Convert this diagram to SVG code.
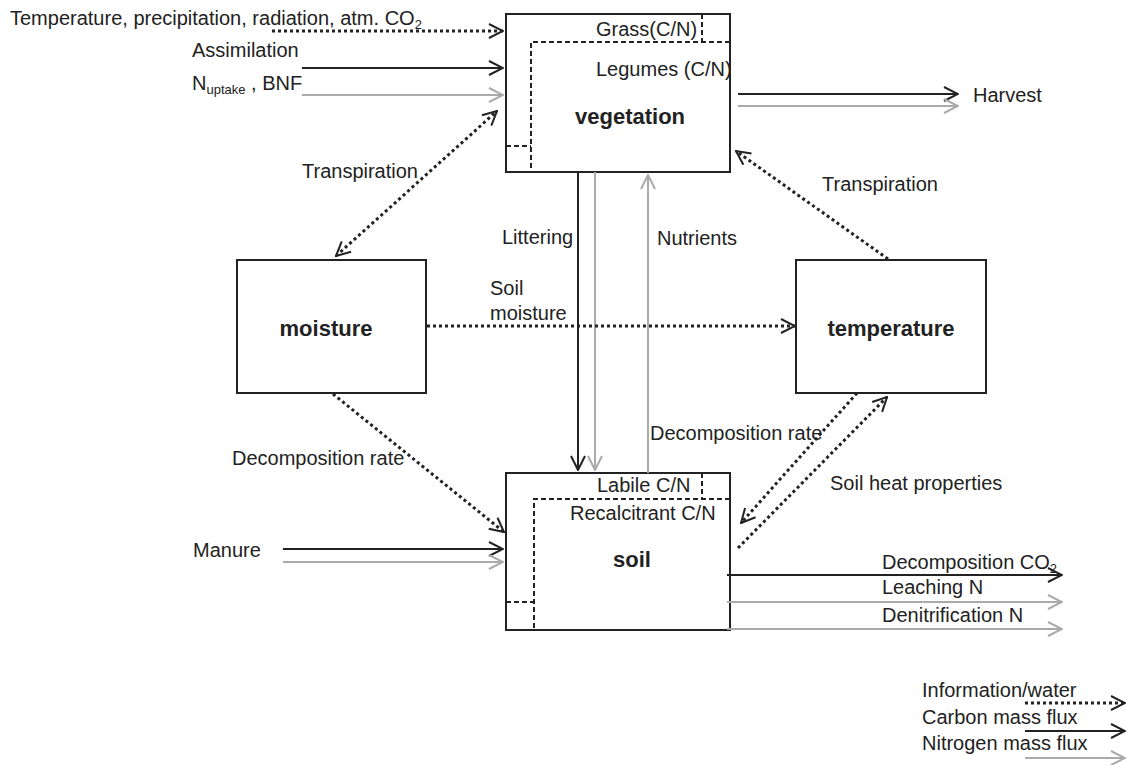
<svg xmlns="http://www.w3.org/2000/svg" width="1127" height="765" viewBox="0 0 1127 765">
<style>
text{font-family:"Liberation Sans",Arial,sans-serif;font-size:20px;fill:#222}
.b{font-weight:bold;font-size:22px;text-anchor:middle}
.sub{font-size:13px}
.box{fill:#fff;stroke:#222;stroke-width:2}
.dash{fill:none;stroke:#222;stroke-width:2;stroke-dasharray:5,3}
.c{fill:none;stroke:#222;stroke-width:2;marker-end:url(#ah)}
.n{fill:none;stroke:#aaa;stroke-width:2;marker-end:url(#ahg)}
.d{fill:none;stroke:#222;stroke-width:3;stroke-dasharray:3,3}
.de{marker-end:url(#ah)}
.ds{marker-start:url(#ahs)}
</style>
<defs>
<marker id="ah" viewBox="0 0 16 16" refX="15" refY="8" markerWidth="16" markerHeight="16" markerUnits="userSpaceOnUse" orient="auto"><path d="M1,1 L15,8 L1,15" fill="none" stroke="#222" stroke-width="2"/></marker>
<marker id="ahs" viewBox="0 0 16 16" refX="1" refY="8" markerWidth="16" markerHeight="16" markerUnits="userSpaceOnUse" orient="auto"><path d="M15,1 L1,8 L15,15" fill="none" stroke="#222" stroke-width="2"/></marker>
<marker id="ahg" viewBox="0 0 16 16" refX="15" refY="8" markerWidth="16" markerHeight="16" markerUnits="userSpaceOnUse" orient="auto"><path d="M1,1 L15,8 L1,15" fill="none" stroke="#aaa" stroke-width="2"/></marker>
</defs>
<rect width="1127" height="765" fill="#fff"/>
<g id="vegetation">
<rect class="box" x="506" y="14" width="224" height="158"/>
<path class="dash" d="M702,14 V42 M730,42 H531 V172 M506,146 H531"/>
<text x="596" y="36">Grass(C/N)</text>
<text x="596" y="76">Legumes (C/N)</text>
<text class="b" x="630" y="124">vegetation</text>
</g>
<g id="soil">
<rect class="box" x="506" y="473" width="224" height="157"/>
<path class="dash" d="M702,473 V499 M730,499 H534 V630 M506,602 H534"/>
<text x="597" y="492">Labile C/N</text>
<text x="570" y="520">Recalcitrant C/N</text>
<text class="b" x="632" y="567">soil</text>
</g>
<g id="moisture">
<rect class="box" x="237" y="260" width="189" height="133"/>
<text class="b" x="326" y="336">moisture</text>
</g>
<g id="temperature">
<rect class="box" x="796" y="260" width="190" height="133"/>
<text class="b" x="891" y="336">temperature</text>
</g>
<g id="connectors">
<path class="d de" d="M272,31 H503"/>
<path class="c" d="M302,68 H503"/>
<path class="n" d="M302,95 H503"/>
<path class="c" d="M738,94 H958"/>
<path class="n" d="M738,106 H958"/>
<path class="d de ds" d="M336,256 L497,111"/>
<path class="c" d="M578,172 V470"/>
<path class="n" d="M595,172 V470"/>
<path class="n" d="M648,473 V175"/>
<path class="d de" d="M427,326 H795"/>
<path class="d de" d="M888,259 L736,151"/>
<path class="d de" d="M333,394 L504,532"/>
<path class="c" d="M283,549 H503"/>
<path class="n" d="M283,562 H503"/>
<path class="d de" d="M857,393 L741,523"/>
<path class="d de" d="M738,548 L887,397"/>
<path class="c" d="M727,575 H1062"/>
<path class="n" d="M727,602 H1062"/>
<path class="n" d="M727,629 H1062"/>
<path class="d de" d="M1025,703 H1125"/>
<path class="c" d="M1025,731 H1125"/>
<path class="n" d="M1025,758 H1125"/>
</g>
<g id="labels">
<text x="10" y="25">Temperature, precipitation, radiation, atm. CO<tspan class="sub" dy="4">2</tspan></text>
<text x="192" y="57">Assimilation</text>
<text x="192" y="90">N<tspan class="sub" dy="4">uptake</tspan><tspan dy="-4"> , BNF</tspan></text>
<text x="973" y="102">Harvest</text>
<text x="302" y="178">Transpiration</text>
<text x="822" y="191">Transpiration</text>
<text x="502" y="244">Littering</text>
<text x="657" y="245">Nutrients</text>
<text x="490" y="295">Soil</text>
<text x="490" y="320">moisture</text>
<text x="232" y="465">Decomposition rate</text>
<text x="650" y="440">Decomposition rate</text>
<text x="830" y="490">Soil heat properties</text>
<text x="193" y="557">Manure</text>
<text x="882" y="569">Decomposition CO<tspan class="sub" dy="4">2</tspan></text>
<text x="882" y="594">Leaching N</text>
<text x="882" y="622">Denitrification N</text>
<text x="922" y="697">Information/water</text>
<text x="922" y="724">Carbon mass flux</text>
<text x="922" y="750">Nitrogen mass flux</text>
</g>
</svg>
